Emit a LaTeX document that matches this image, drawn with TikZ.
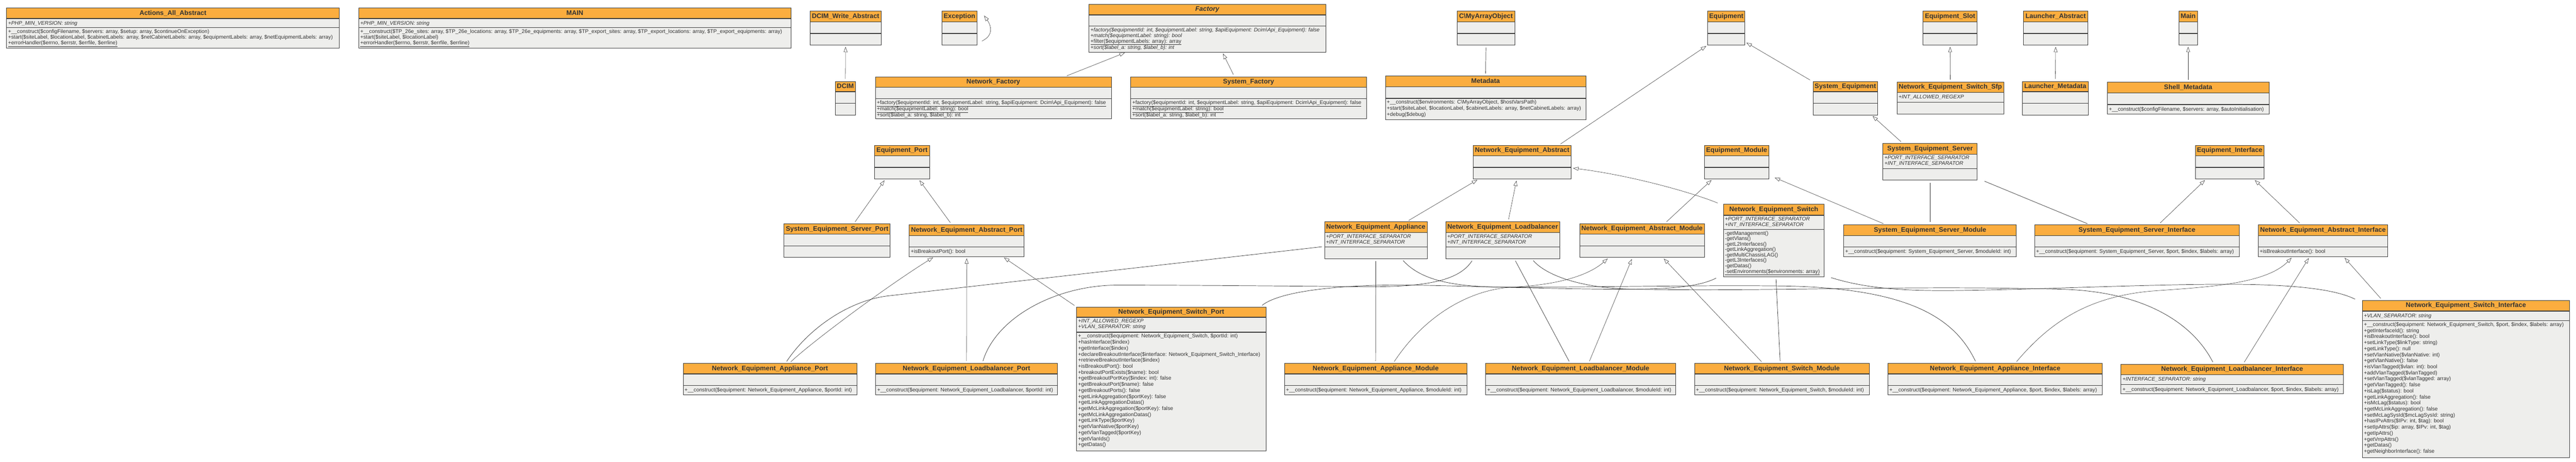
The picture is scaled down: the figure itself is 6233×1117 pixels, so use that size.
\documentclass[tikz,border=0pt]{standalone}
\usepackage{fontspec}
\setmainfont{Liberation Sans}
\usetikzlibrary{arrows.meta,fit}
\definecolor{hdorange}{HTML}{FBAD3F}
\definecolor{bdgray}{HTML}{EEEEEC}
\definecolor{lngray}{HTML}{3C3C3C}

\tikzset{
  headfill/.style={fill=hdorange},
  bodyfill/.style={fill=bdgray},
  boxline/.style={draw=lngray, line width=1.1pt},
  sepline/.style={draw=lngray, line width=1.6pt},
  title/.style={font=\bfseries\fontsize{16}{18}\selectfont, text=black!80, inner sep=0pt, text height=11.7pt, text depth=3.4pt},
  members/.style={anchor=north west, inner sep=0pt, align=left, text=black!80, font=\fontsize{12.8}{13.6}\selectfont, execute at begin node={\rule{0pt}{11pt}}},
  longlist/.style={font=\fontsize{12.8}{14.6}\selectfont},
  inherit/.style={draw=black!80, line width=0.7pt, -{Triangle[open,length=13pt,width=9pt]}, shorten >=4pt, shorten <=6pt},
  assoc/.style={draw=black!80, line width=0.9pt, shorten >=6pt, shorten <=6pt}
}

% name, left, top, right, header end, attributes end, bottom, title
\newcommand\umlclass[9][]{%
  \path (#3,#4) coordinate (#2-nw) (#5,#8) coordinate (#2-se)
        (#3,#6) coordinate (#2-h) (#3,#7) coordinate (#2-a);
  \fill[headfill] (#3,#4) rectangle (#5,#6);
  \fill[bodyfill] (#3,#6) rectangle (#5,#8);
  \draw[sepline] (#3,#6) -- (#5,#6) (#3,#7) -- (#5,#7);
  \draw[boxline] (#3,#4) rectangle (#5,#8);
  \node[fit=(#2-nw)(#2-se), inner sep=0pt] (#2) {};
  \node[title,#1] (#2-title) at ({(#3+#5)/2},{(#4+#6)/2}) {#9};
}
\newcommand\umlattrs[3][]{\node[members,#1] (#2-attrs) at ([xshift=3.5pt,yshift=-4pt]#2-h) {#3};}
\newcommand\umlops[3][]{\node[members,#1] (#2-ops) at ([xshift=3.5pt,yshift=-4pt]#2-a) {#3};}

\begin{document}
\begin{tikzpicture}[x=1pt,y=-1pt]
\fill[white] (0,0) rectangle (6233,1117);
\useasboundingbox (0,0) rectangle (6233,1117);

% top row
\umlclass{aaa}{16}{19}{821}{45}{67}{117}{Actions\_All\_Abstract}
\umlattrs{aaa}{\textit{+PHP\_MIN\_VERSION: string}}
\umlops{aaa}{+\_\_construct(\$configFilename, \$servers: array, \$setup: array, \$continueOnException)\\
+start(\$siteLabel, \$locationLabel, \$cabinetLabels: array, \$netCabinetLabels: array, \$equipmentLabels: array, \$netEquipmentLabels: array)\\
\underline{+errorHandler(\$errno, \$errstr, \$errfile, \$errline)}}

\umlclass{main}{868}{19}{1914}{45}{67}{117}{MAIN}
\umlattrs{main}{\textit{+PHP\_MIN\_VERSION: string}}
\umlops{main}{+\_\_construct(\$TP\_26e\_sites: array, \$TP\_26e\_locations: array, \$TP\_26e\_equipments: array, \$TP\_export\_sites: array, \$TP\_export\_locations: array, \$TP\_export\_equipments: array)\\
+start(\$siteLabel, \$locationLabel)\\
\underline{+errorHandler(\$errno, \$errstr, \$errfile, \$errline)}}

\umlclass{dwa}{1960}{27}{2132}{53}{81}{109}{DCIM\_Write\_Abstract}
\umlclass{exc}{2279}{27}{2364}{53}{81}{109}{Exception}

\umlclass{fac}{2635}{10}{3208}{36}{63}{126}{\textit{Factory}}
\umlops{fac}{\textit{+factory(\$equipmentId: int, \$equipmentLabel: string, \$apiEquipment: Dcim\textbackslash Api\_Equipment): false}\\
\textit{+match(\$equipmentLabel: string): bool}\\
\underline{+filter(\$equipmentLabels: array): array}\\
\textit{+sort(\$label\_a: string, \$label\_b): int}}

\umlclass{cmao}{3526}{27}{3665}{53}{81}{109}{C\textbackslash MyArrayObject}
\umlclass{eqp}{4132}{27}{4222}{53}{81}{109}{Equipment}
\umlclass{eslot}{4653}{27}{4784}{53}{81}{109}{Equipment\_Slot}
\umlclass{lab}{4896}{27}{5052}{53}{81}{109}{Launcher\_Abstract}
\umlclass{mainb}{5272}{27}{5317}{53}{81}{109}{Main}

% second row
\umlclass{dcim}{2021}{197}{2070}{222}{250}{278}{DCIM}

\umlclass{nfac}{2118}{186}{2689}{211}{239}{287}{Network\_Factory}
\umlops{nfac}{\underline{+factory(\$equipmentId: int, \$equipmentLabel: string, \$apiEquipment: Dcim\textbackslash Api\_Equipment): false}\\
\underline{+match(\$equipmentLabel: string): bool}\\
\underline{+sort(\$label\_a: string, \$label\_b): int}}

\umlclass{sfac}{2736}{186}{3306}{211}{239}{287}{System\_Factory}
\umlops{sfac}{\underline{+factory(\$equipmentId: int, \$equipmentLabel: string, \$apiEquipment: Dcim\textbackslash Api\_Equipment): false}\\
\underline{+match(\$equipmentLabel: string): bool}\\
\underline{+sort(\$label\_a: string, \$label\_b): int}}

\umlclass{meta}{3352}{184}{3837}{210}{238}{290}{Metadata}
\umlops[longlist]{meta}{+\_\_construct(\$environments: C\textbackslash MyArrayObject, \$hostVarsPath)\\
+start(\$siteLabel, \$locationLabel, \$cabinetLabels: array, \$netCabinetLabels: array)\\
+debug(\$debug)}

\umlclass{seq}{4387}{197}{4543}{222}{250}{278}{System\_Equipment}
\umlclass{nesfp}{4590}{199}{4848}{224}{247}{276}{Network\_Equipment\_Switch\_Sfp}
\umlattrs{nesfp}{\textit{+INT\_ALLOWED\_REGEXP}}
\umlclass{lmeta}{4893}{197}{5053}{222}{250}{278}{Launcher\_Metadata}
\umlclass{smeta}{5099}{199}{5490}{225}{253}{276}{Shell\_Metadata}
\umlops{smeta}{+\_\_construct(\$configFilename, \$servers: array, \$autoInitialisation)}

% third row
\umlclass{eport}{2116}{352}{2249}{377}{405}{433}{Equipment\_Port}
\umlclass{nea}{3564}{352}{3802}{377}{405}{433}{Network\_Equipment\_Abstract}
\umlclass{emod}{4124}{352}{4280}{377}{405}{433}{Equipment\_Module}
\umlclass{ses}{4556}{347}{4784}{373}{408}{436}{System\_Equipment\_Server}
\umlattrs{ses}{\textit{+PORT\_INTERFACE\_SEPARATOR}\\\textit{+INT\_INTERFACE\_SEPARATOR}}
\umlclass{eif}{5312}{352}{5478}{377}{405}{433}{Equipment\_Interface}

% fourth row
\umlclass{sesp}{1897}{542}{2154}{567}{595}{623}{System\_Equipment\_Server\_Port}
\umlclass{neap}{2200}{544}{2478}{570}{598}{621}{Network\_Equipment\_Abstract\_Port}
\umlops{neap}{+isBreakoutPort(): bool}
\umlclass{neapp}{3205}{537}{3453}{563}{598}{626}{Network\_Equipment\_Appliance}
\umlattrs{neapp}{\textit{+PORT\_INTERFACE\_SEPARATOR}\\\textit{+INT\_INTERFACE\_SEPARATOR}}
\umlclass{nelb}{3498}{537}{3774}{563}{598}{626}{Network\_Equipment\_Loadbalancer}
\umlattrs{nelb}{\textit{+PORT\_INTERFACE\_SEPARATOR}\\\textit{+INT\_INTERFACE\_SEPARATOR}}
\umlclass{neam}{3822}{541}{4124}{567}{595}{623}{Network\_Equipment\_Abstract\_Module}
\umlclass{nesw}{4170}{494}{4414}{521}{555}{670}{Network\_Equipment\_Switch}
\umlattrs{nesw}{\textit{+PORT\_INTERFACE\_SEPARATOR}\\\textit{+INT\_INTERFACE\_SEPARATOR}}
\umlops[font=\fontsize{12.8}{13.2}\selectfont]{nesw}{-getManagement()\\-getVlans()\\-getL2Interfaces()\\-getLinkAggregation()\\-getMultiChassisLAG()\\-getL3Interfaces()\\-getDatas()\\\underline{-setEnvironments(\$environments: array)}}
\umlclass{sesm}{4461}{544}{4879}{570}{598}{621}{System\_Equipment\_Server\_Module}
\umlops{sesm}{+\_\_construct(\$equipment: System\_Equipment\_Server, \$moduleId: int)}
\umlclass{sesi}{4923}{544}{5418}{570}{598}{621}{System\_Equipment\_Server\_Interface}
\umlops{sesi}{+\_\_construct(\$equipment: System\_Equipment\_Server, \$port, \$index, \$labels: array)}
\umlclass{neai}{5464}{544}{5777}{570}{598}{621}{Network\_Equipment\_Abstract\_Interface}
\umlops{neai}{+isBreakoutInterface(): bool}

% bottom row
\umlclass{neappp}{1653}{880}{2073}{905}{933}{956}{Network\_Equipment\_Appliance\_Port}
\umlops{neappp}{+\_\_construct(\$equipment: Network\_Equipment\_Appliance, \$portId: int)}
\umlclass{nelbp}{2119}{880}{2558}{905}{933}{956}{Network\_Equipment\_Loadbalancer\_Port}
\umlops{nelbp}{+\_\_construct(\$equipment: Network\_Equipment\_Loadbalancer, \$portId: int)}

\umlclass{nesp}{2605}{743}{3063}{768}{804}{1091}{Network\_Equipment\_Switch\_Port}
\umlattrs{nesp}{\textit{+INT\_ALLOWED\_REGEXP}\\\textit{+VLAN\_SEPARATOR: string}}
\umlops[longlist]{nesp}{+\_\_construct(\$equipment: Network\_Equipment\_Switch, \$portId: int)\\
+hasInterface(\$index)\\
+getInterface(\$index)\\
+declareBreakoutInterface(\$interface: Network\_Equipment\_Switch\_Interface)\\
+retrieveBreakoutInterface(\$index)\\
+isBreakoutPort(): bool\\
+breakoutPortExists(\$name): bool\\
+getBreakoutPortKey(\$index: int): false\\
+getBreakoutPort(\$name): false\\
+getBreakoutPorts(): false\\
+getLinkAggregation(\$portKey): false\\
+getLinkAggregationDatas()\\
+getMcLinkAggregation(\$portKey): false\\
+getMcLinkAggregationDatas()\\
+getLinkType(\$portKey)\\
+getVlanNative(\$portKey)\\
+getVlanTagged(\$portKey)\\
+getVlanIds()\\
+getDatas()}

\umlclass{neappm}{3108}{880}{3549}{905}{933}{956}{Network\_Equipment\_Appliance\_Module}
\umlops{neappm}{+\_\_construct(\$equipment: Network\_Equipment\_Appliance, \$moduleId: int)}
\umlclass{nelbm}{3595}{880}{4054}{905}{933}{956}{Network\_Equipment\_Loadbalancer\_Module}
\umlops{nelbm}{+\_\_construct(\$equipment: Network\_Equipment\_Loadbalancer, \$moduleId: int)}
\umlclass{neswm}{4100}{880}{4523}{905}{933}{956}{Network\_Equipment\_Switch\_Module}
\umlops{neswm}{+\_\_construct(\$equipment: Network\_Equipment\_Switch, \$moduleId: int)}
\umlclass{neappi}{4568}{880}{5087}{905}{933}{956}{Network\_Equipment\_Appliance\_Interface}
\umlops{neappi}{+\_\_construct(\$equipment: Network\_Equipment\_Appliance, \$port, \$index, \$labels: array)}
\umlclass{nelbi}{5132}{882}{5670}{907}{931}{953}{Network\_Equipment\_Loadbalancer\_Interface}
\umlattrs{nelbi}{\textit{+INTERFACE\_SEPARATOR: string}}
\umlops{nelbi}{+\_\_construct(\$equipment: Network\_Equipment\_Loadbalancer, \$port, \$index, \$labels: array)}

\umlclass{neswi}{5716}{727}{6217}{753}{776}{1107}{Network\_Equipment\_Switch\_Interface}
\umlattrs{neswi}{\textit{+VLAN\_SEPARATOR: string}}
\umlops[longlist]{neswi}{+\_\_construct(\$equipment: Network\_Equipment\_Switch, \$port, \$index, \$labels: array)\\
+getInterfaceId(): string\\
+isBreakoutInterface(): bool\\
+setLinkType(\$linkType: string)\\
+getLinkType(): null\\
+setVlanNative(\$vlanNative: int)\\
+getVlanNative(): false\\
+isVlanTagged(\$vlan: int): bool\\
+addVlanTagged(\$vlanTagged)\\
+setVlanTagged(\$vlanTagged: array)\\
+getVlanTagged(): false\\
+isLag(\$status): bool\\
+getLinkAggregation(): false\\
+isMcLag(\$status): bool\\
+getMcLinkAggregation(): false\\
+setMcLagSysId(\$mcLagSysId: string)\\
+hasIPvAttrs(\$IPv: int, \$tag): bool\\
+setIpAttrs(\$ip: array, \$IPv: int, \$tag)\\
+getIpAttrs()\\
+getVrrpAttrs()\\
+getDatas()\\
+getNeighborInterface(): false}

% inheritance
\draw[inherit] (dcim.north) -- (dwa.south);
\draw[inherit, shorten <=0pt, shorten >=0pt] ([xshift=12pt,yshift=10pt]exc.south east) .. controls +(29,-14) and +(17,24) .. ([xshift=17pt,yshift=-11pt]exc.north east);
\draw[inherit] ([xshift=172pt]nfac.north) -- ([xshift=-196pt]fac.south);
\draw[inherit] ([xshift=-34pt]sfac.north) -- ([xshift=36pt]fac.south);
\draw[inherit] ([xshift=88pt]nea.north) -- (eqp.south west);
\draw[inherit] ([xshift=-80pt]seq.north) -- ([yshift=8pt]eqp.south east);
\draw[inherit] (nesfp.north) -- (eslot.south);
\draw[inherit] (lmeta.north) -- (lab.south);
\draw[inherit] (smeta.north) -- (mainb.south);
\draw[inherit] ([xshift=40pt]sesp.north) -- ([xshift=-40pt]eport.south);
\draw[inherit] ([xshift=-36pt]neap.north) -- ([xshift=40pt]eport.south);
\draw[inherit] ([xshift=74pt]neapp.north) -- ([xshift=-105pt]nea.south);
\draw[inherit] ([xshift=13pt]nelb.north) -- ([xshift=-13pt]nea.south);
\draw[inherit] ([xshift=-8pt]nesw.north west) .. controls (4100,468) and (3950,425) .. ([yshift=-14pt]nea.east);
\draw[inherit] ([xshift=55pt]neam.north) -- ([xshift=-58pt]emod.south);
\draw[inherit] ([xshift=-107pt]sesm.north) -- ([xshift=10pt,yshift=5pt]emod.south east);
\draw[inherit] ([xshift=-66pt]ses.north) -- ([xshift=63pt]seq.south);
\draw[inherit] ([xshift=52pt]sesi.north) -- ([xshift=-57pt]eif.south);
\draw[inherit] ([xshift=-52pt]neai.north) -- ([xshift=58pt]eif.south);
\draw[inherit] ([xshift=46pt]neappp.north) .. controls (1970,823) and (2150,690) .. ([xshift=-78pt]neap.south);
\draw[inherit] (nelbp.north) -- (neap.south);
\draw[inherit] (nesp.north west) -- ([xshift=87pt]neap.south);
\draw[inherit] ([xshift=42pt]neappm.north) .. controls (3450,760) and (3560,700) .. (3660,695) .. controls (3760,690) and (3840,670) .. ([xshift=-80pt]neam.south);
\draw[inherit] ([xshift=19pt]nelbm.north) -- ([xshift=-23pt]neam.south);
\draw[inherit] ([xshift=-45pt]neswm.north) -- ([xshift=50pt]neam.south);
\draw[inherit] ([xshift=48pt]neappi.north) .. controls (4960,780) and (5050,720) .. (5200,705) .. controls (5330,695) and (5480,690) .. ([xshift=-73pt]neai.south);
\draw[inherit] ([xshift=26pt]nelbi.north) -- ([xshift=-32pt]neai.south);
\draw[inherit] ([xshift=-202pt]neswi.north) -- ([xshift=50pt]neai.south);

% associations
\draw[assoc] (meta.north) -- (cmao.south);
\draw[assoc] ([yshift=-15pt]neapp.west) -- (2150,716) .. controls (2060,726) and (1960,790) .. ([xshift=37pt]neappp.north);
\draw[assoc] (neapp.south) -- (neappm.north);
\draw[assoc] ([xshift=62pt]neapp.south) .. controls (3440,680) and (3520,695) .. (3650,695) .. controls (3900,695) and (4100,690) .. (4300,692) .. controls (4620,695) and (4730,770) .. ([xshift=-45pt]neappi.north);
\draw[assoc] ([xshift=-71pt]nelb.south) .. controls (3530,680) and (3450,695) .. (3300,694) .. controls (3100,692) and (2850,690) .. (2700,690) .. controls (2550,692) and (2410,770) .. ([xshift=38pt]nelbp.north);
\draw[assoc] ([xshift=28pt]nelb.south) -- ([xshift=-25pt]nelbm.north);
\draw[assoc] ([xshift=70pt]nelb.south) .. controls (3740,665) and (3820,697) .. (3950,700) .. controls (4300,706) and (4600,690) .. (4985,700) .. controls (5200,705) and (5310,790) .. ([xshift=-44pt]nelbi.north);
\draw[assoc] ([xshift=5pt]nesw.south) -- ([xshift=-4pt]neswm.north);
\draw[assoc] ([xshift=-134pt]nesw.south) .. controls (4100,700) and (4000,700) .. (3900,700) .. controls (3650,698) and (3450,688) .. (3350,690) .. controls (3200,693) and (3090,710) .. ([xshift=-14pt]nesp.north east);
\draw[assoc] ([xshift=133pt]nesw.south) .. controls (4520,700) and (4620,705) .. (4747,703) .. controls (4950,700) and (5200,688) .. (5385,688) .. controls (5550,688) and (5650,700) .. ([xshift=-12pt]neswi.north west);
\draw[assoc] (ses.south) -- (sesm.north);
\draw[assoc] ([xshift=126pt]ses.south) -- ([xshift=-114pt]sesi.north);
\end{tikzpicture}
\end{document}
